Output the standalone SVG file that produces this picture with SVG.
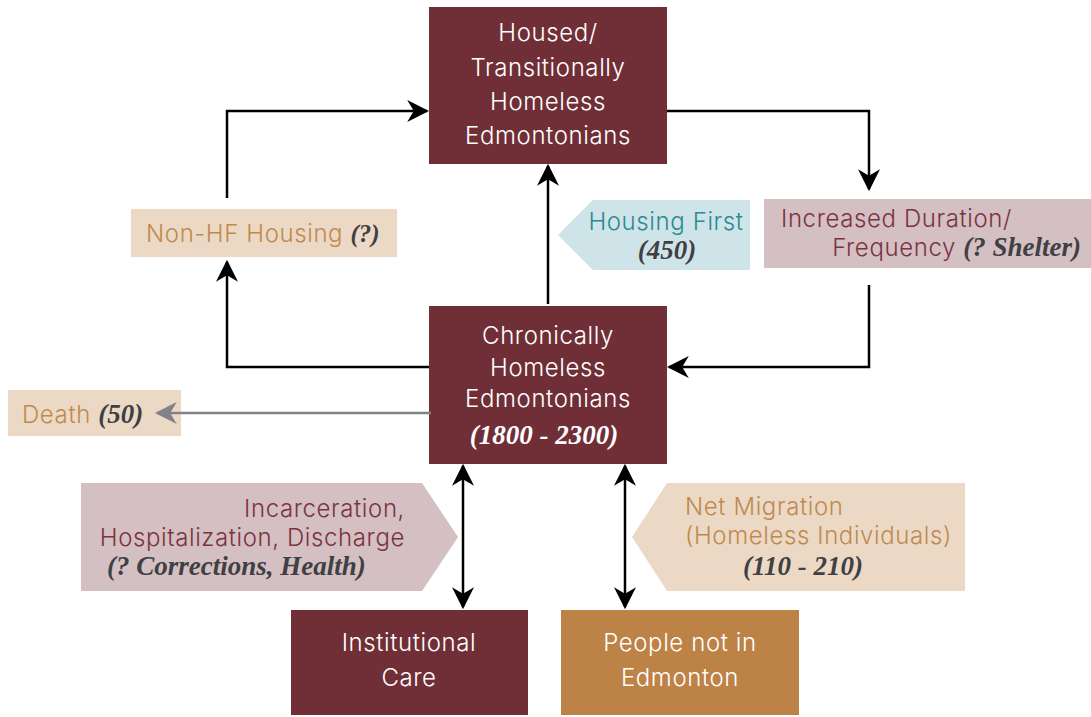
<svg xmlns="http://www.w3.org/2000/svg" width="1091" height="717" viewBox="0 0 1091 717">
<defs>
<style>
.t{font-family:Inter,"Open Sans","Liberation Sans",sans-serif;font-size:24px;font-weight:300;letter-spacing:0.6px}
.w{fill:#ffffff}
.m{fill:#7a3440}
.g{fill:#c08a4e}
.c{fill:#2a8a96}
.n{font-family:"Liberation Serif","DejaVu Serif",serif;font-style:italic;font-weight:bold;font-size:27px;letter-spacing:0;fill:#3f3f44}
.nw{fill:#ffffff}
.ln{fill:none;stroke:#000;stroke-width:2.5}
</style>
<marker id="ahb" viewBox="0 0 10 10" refX="9" refY="5" markerWidth="22" markerHeight="22" markerUnits="userSpaceOnUse" orient="auto-start-reverse">
<path d="M0,0 L10,5 L0,10 L3,5 z" fill="#000"/>
</marker>
<marker id="ahg" viewBox="0 0 10 10" refX="9" refY="5" markerWidth="22" markerHeight="22" markerUnits="userSpaceOnUse" orient="auto">
<path d="M0,0 L10,5 L0,10 L3,5 z" fill="#808285"/>
</marker>
</defs>
<rect width="1091" height="717" fill="#fff"/>
<g id="housed">
<rect x="429" y="7" width="238" height="157" fill="#702f37"/>
<text class="t w" text-anchor="middle"><tspan x="548" y="41">Housed/</tspan><tspan x="548" y="76">Transitionally</tspan><tspan x="548" y="110">Homeless</tspan><tspan x="548" y="144">Edmontonians</tspan></text>
</g>
<g id="chronic">
<rect x="429" y="306" width="238" height="158" fill="#702f37"/>
<text class="t w" text-anchor="middle"><tspan x="548" y="344">Chronically</tspan><tspan x="548" y="376">Homeless</tspan><tspan x="548" y="407">Edmontonians</tspan></text>
<text class="n nw" x="544" y="444" text-anchor="middle">(1800 - 2300)</text>
</g>
<g id="institutional">
<rect x="291" y="610" width="237" height="105" fill="#702f37"/>
<text class="t w" text-anchor="middle"><tspan x="409" y="651">Institutional</tspan><tspan x="409" y="686">Care</tspan></text>
</g>
<g id="people">
<rect x="561" y="610" width="238" height="105" fill="#bd8245"/>
<text class="t w" text-anchor="middle"><tspan x="680" y="651">People not in</tspan><tspan x="680" y="686">Edmonton</tspan></text>
</g>
<g id="nonhf">
<rect x="131" y="209" width="266" height="48" fill="#ebd9c6"/>
<text class="t g" x="146" y="242">Non-HF Housing <tspan class="n" style="font-size:25px">(?)</tspan></text>
</g>
<g id="housingfirst">
<path d="M750,200 H593 L558,235 L593,270 H750 Z" fill="#cfe4e8"/>
<text class="t c" x="666" y="230" text-anchor="middle">Housing First</text>
<text class="n" x="667" y="259" text-anchor="middle">(450)</text>
</g>
<g id="increased">
<rect x="764" y="199" width="327" height="69" fill="#d4bfc2"/>
<text class="t m" x="781" y="227">Increased Duration/</text>
<text class="t m" x="1081" y="256" text-anchor="end">Frequency <tspan class="n">(? Shelter)</tspan></text>
</g>
<g id="death">
<rect x="8" y="390" width="173" height="46" fill="#ebd9c6"/>
<text class="t g" x="22" y="423">Death <tspan class="n">(50)</tspan></text>
</g>
<g id="incarceration">
<path d="M81,483 H422 L458,537 L422,591 H81 Z" fill="#d4bfc2"/>
<text class="t m" text-anchor="end" x="405" y="517">Incarceration,</text>
<text class="t m" text-anchor="end" x="405" y="546">Hospitalization, Discharge</text>
<text class="n" x="107" y="575">(? Corrections, Health)</text>
</g>
<g id="migration">
<path d="M965,483 H667 L632,537 L667,591 H965 Z" fill="#ebd9c6"/>
<text class="t g" x="685" y="515">Net Migration</text>
<text class="t g" x="685" y="544">(Homeless Individuals)</text>
<text class="n" x="803" y="575" text-anchor="middle">(110 - 210)</text>
</g>
<g id="connectors">
<path class="ln" d="M227,198 V111 H427" marker-end="url(#ahb)"/>
<path class="ln" d="M667,111 H869 V189" marker-end="url(#ahb)"/>
<path class="ln" d="M869,285 V367 H669" marker-end="url(#ahb)"/>
<path class="ln" d="M429,367 H227 V262" marker-end="url(#ahb)"/>
<path class="ln" d="M548,304 V166" marker-end="url(#ahb)"/>
<path d="M431,413 H157" fill="none" stroke="#808285" stroke-width="2.5" marker-end="url(#ahg)"/>
<path class="ln" d="M463,466 V607" marker-start="url(#ahb)" marker-end="url(#ahb)"/>
<path class="ln" d="M625,466 V607" marker-start="url(#ahb)" marker-end="url(#ahb)"/>
</g>
</svg>
